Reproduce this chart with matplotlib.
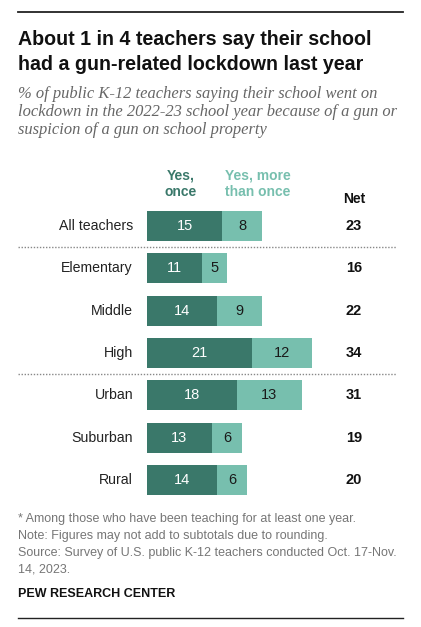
import matplotlib
matplotlib.use("Agg")
import matplotlib.pyplot as plt
from matplotlib.lines import Line2D

categories = ["All teachers", "Elementary", "Middle", "High", "Urban", "Suburban", "Rural"]
yes_once = [15, 11, 14, 21, 18, 13, 14]
yes_more = [8, 5, 9, 12, 13, 6, 6]
net = [23, 16, 22, 34, 31, 19, 20]
series_labels = ["Yes,\nonce", "Yes, more\nthan once"]

title_lines = ["About 1 in 4 teachers say their school",
               "had a gun-related lockdown last year"]
subtitle_lines = ["% of public K-12 teachers saying their school went on",
                  "lockdown in the 2022-23 school year because of a gun or",
                  "suspicion of a gun on school property"]
notes = ["* Among those who have been teaching for at least one year.",
         "Note: Figures may not add to subtotals due to rounding.",
         "Source: Survey of U.S. public K-12 teachers conducted Oct. 17-Nov.",
         "14, 2023."]
credit = "PEW RESEARCH CENTER"

DARK = "#3A786A"
LIGHT = "#77BFAE"
W, H = 421, 627

fig = plt.figure(figsize=(W / 100, H / 100), dpi=100)
fig.patch.set_facecolor("white")

def fx(px):
    return px / W

def fy(py):
    return 1 - py / H

# axes: x=0 at pixel 147, 5 px per unit; rows 42.3 px apart
ax_left, ax_right = 147, 397
ax_top, ax_bot = 205, 501
ax = fig.add_axes([fx(ax_left), fy(ax_bot), (ax_right - ax_left) / W, (ax_bot - ax_top) / H])
ax.set_xlim(0, (ax_right - ax_left) / 5)
n = len(categories)
ax.set_ylim(n - 0.5, -0.5)
ax.axis("off")

ypos = list(range(n))
bh = 0.71
ax.barh(ypos, yes_once, height=bh, color=DARK, edgecolor="none")
ax.barh(ypos, yes_more, left=yes_once, height=bh, color=LIGHT, edgecolor="none")

font = "Liberation Sans"
for i in range(n):
    ax.text(yes_once[i] / 2, i, str(yes_once[i]), ha="center", va="center",
            color="white", fontsize=10.5, family=font)
    ax.text(yes_once[i] + yes_more[i] / 2, i, str(yes_more[i]), ha="center", va="center",
            color="#1a1a1a", fontsize=10.5, family=font)
    ax.text(-2.8, i, categories[i], ha="right", va="center", color="#222222",
            fontsize=10.2, family=font, clip_on=False)
    ax.text(41.4, i, str(net[i]), ha="center", va="center", color="#111111",
            fontsize=10.5, fontweight="bold", family=font, clip_on=False)

# dotted separators
for yv in (0.5, 3.5):
    ax.plot([-25.8, 49.8], [yv, yv], color="#888888", lw=1.0, ls=(0, (1, 1.2)),
            clip_on=False)

# headers
fig.text(fx(181), fy(196), series_labels[0], ha="center", va="baseline", color=DARK,
         fontsize=10, fontweight="bold", family=font, linespacing=1.25)
fig.text(fx(258), fy(196), series_labels[1], ha="center", va="baseline", color=LIGHT,
         fontsize=10, fontweight="bold", family=font, linespacing=1.25)
fig.text(fx(354), fy(203), "Net", ha="center", va="baseline", color="#111111",
         fontsize=10, fontweight="bold", family=font)

# rules
fig.add_artist(Line2D([fx(18), fx(403)], [fy(12), fy(12)], color="#222222", lw=1.3))
fig.add_artist(Line2D([fx(18), fx(403)], [fy(618), fy(618)], color="#222222", lw=1.0))

# title
for k, line in enumerate(title_lines):
    fig.text(fx(18), fy(45 + 25 * k), line, ha="left", va="baseline", color="#111111",
             fontsize=14.1, fontweight="bold", family=font)

# subtitle
for k, line in enumerate(subtitle_lines):
    fig.text(fx(18), fy(98 + 18 * k), line, ha="left", va="baseline", color="#666666",
             fontsize=11.9, style="italic", family="Liberation Serif")

# notes
for k, line in enumerate(notes):
    fig.text(fx(18), fy(522 + 17 * k), line, ha="left", va="baseline", color="#767676",
             fontsize=9.0, family=font)
fig.text(fx(18), fy(597), credit, ha="left", va="baseline", color="#111111",
         fontsize=9, fontweight="bold", family=font)

fig.savefig("out.png", dpi=100, facecolor="white")
